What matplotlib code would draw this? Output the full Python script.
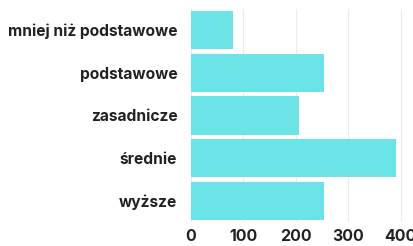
import matplotlib.pyplot as plt

# education level counts
categories = ["mniej niż podstawowe", "podstawowe", "zasadnicze", "średnie", "wyższe"]
counts = [80, 255, 207, 391, 254]
ticks = [0, 100, 200, 300, 400]

plt.rcParams['font.family'] = ['Inter', 'DejaVu Sans']

fig = plt.figure(figsize=(4.13, 2.46), dpi=100)
ax = fig.add_axes([0.4613, 0.097, 0.534, 0.867])

ax.barh(range(len(categories)), counts, height=0.9, color="#6ce3e6", zorder=2)
ax.set_ylim(len(categories) - 0.5, -0.5)
ax.set_xlim(0, 420)
ax.set_yticks(range(len(categories)))
ax.set_yticklabels(categories, fontsize=11.2, fontweight="bold", color="#222222")
ax.set_xticks(ticks)
ax.set_xticklabels([str(t) for t in ticks], fontsize=11.5, fontweight="bold", color="#222222")
ax.tick_params(length=0)
ax.tick_params(axis="y", pad=9.5)
ax.tick_params(axis="x", pad=5)
ax.grid(axis="x", color="#ececec", linewidth=0.8, zorder=0)
for s in ax.spines.values():
    s.set_visible(False)

fig.savefig("out.png", dpi=100)
